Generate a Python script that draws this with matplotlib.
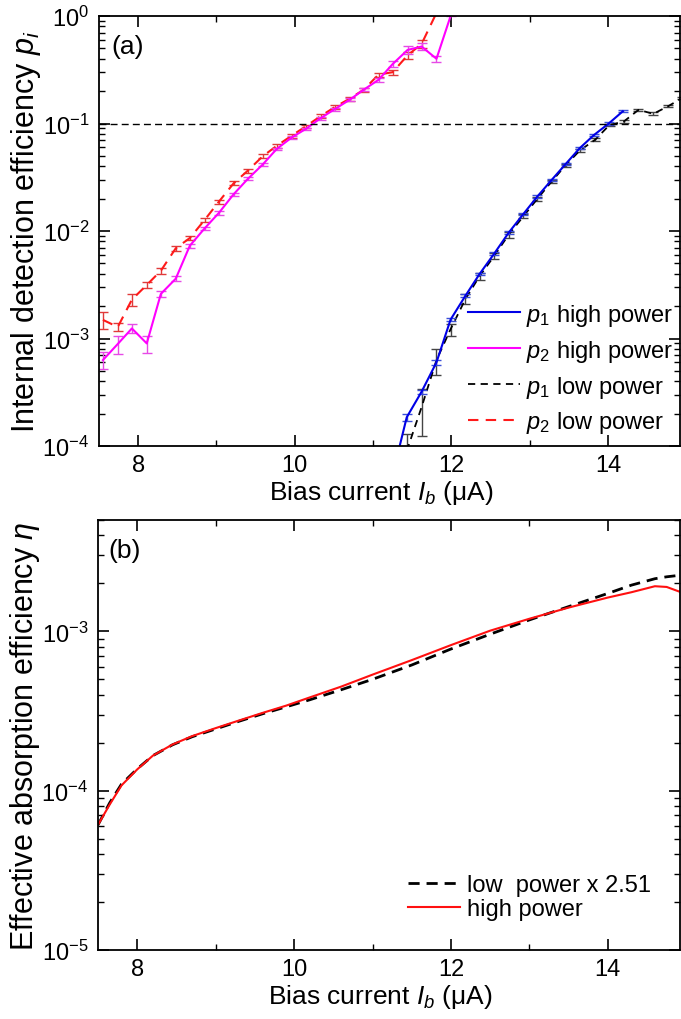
import matplotlib
matplotlib.use("Agg")
import matplotlib.pyplot as plt
from matplotlib.ticker import LogLocator, NullFormatter, MultipleLocator

plt.rcParams['font.family'] = ['Liberation Sans', 'DejaVu Sans']
plt.rcParams['mathtext.fontset'] = 'custom'
plt.rcParams['mathtext.rm'] = 'Liberation Sans'
plt.rcParams['mathtext.it'] = 'Liberation Sans:italic'
plt.rcParams['mathtext.default'] = 'regular'
plt.rcParams['axes.unicode_minus'] = False

# ---- panel (a): internal detection efficiency ----
x_p2_high = [7.55, 7.74, 7.92, 8.11, 8.29, 8.48, 8.66, 8.85, 9.03, 9.22, 9.40, 9.59, 9.77,
             9.96, 10.14, 10.33, 10.51, 10.70, 10.88, 11.07, 11.25, 11.44, 11.62, 11.81, 12.0]
p2_high = [6.3e-4, 8.9e-4, 1.24e-3, 9.0e-4, 2.6e-3, 3.6e-3, 7.3e-3, 1.06e-2, 1.47e-2, 2.2e-2,
           3.05e-2, 4.15e-2, 5.8e-2, 7.4e-2, 8.9e-2, 0.112, 0.136, 0.166, 0.206, 0.255,
           0.357, 0.483, 0.52, 0.40, 1.05]
p2_high_err = [1.15e-4, 1.7e-4, 1.2e-4, 1.6e-4, 1.5e-4, 2.0e-4, 3.0e-4, 4.0e-4, 5e-4, 7e-4,
               1.0e-3, 1.3e-3, 1.8e-3, 2.2e-3, 2.6e-3, 3.3e-3, 4.0e-3, 5.0e-3, 7e-3, 1.0e-2,
               2.5e-2, 4.0e-2, 3.5e-2, 2.5e-2, 0.05]

x_p2_low = [7.55, 7.74, 7.92, 8.11, 8.29, 8.48, 8.66, 8.85, 9.03, 9.22, 9.40, 9.59, 9.77,
            9.96, 10.14, 10.33, 10.51, 10.70, 10.88, 11.07, 11.25, 11.44, 11.62, 11.81]
p2_low = [1.49e-3, 1.28e-3, 2.3e-3, 3.15e-3, 4.27e-3, 6.9e-3, 8.6e-3, 1.27e-2, 1.87e-2,
          2.78e-2, 3.64e-2, 4.95e-2, 6.2e-2, 7.7e-2, 9.4e-2, 0.117, 0.142, 0.17, 0.206,
          0.285, 0.30, 0.43, 0.55, 1.07]
p2_low_err = [2.6e-4, 1.1e-4, 3e-4, 2.2e-4, 2.5e-4, 4e-4, 4e-4, 6e-4, 8e-4, 1.2e-3, 1.5e-3,
              2e-3, 2.5e-3, 3e-3, 3.5e-3, 4.5e-3, 5.5e-3, 7e-3, 8e-3, 1.2e-2, 1.5e-2,
              3e-2, 5e-2, 0.05]

x_p1_high = [11.25, 11.43, 11.62, 11.81, 11.99, 12.18, 12.36, 12.55, 12.73, 12.92, 13.10,
             13.28, 13.46, 13.64, 13.82, 14.01, 14.19]
p1_high = [5.4e-5, 1.85e-4, 3.2e-4, 6.0e-4, 1.5e-3, 2.5e-3, 3.98e-3, 6.2e-3, 9.6e-3,
           1.44e-2, 2.1e-2, 2.98e-2, 4.2e-2, 5.9e-2, 7.8e-2, 0.1, 0.13]
p1_high_err = [3e-6, 1.5e-5, 1.5e-5, 3e-5, 5e-5, 8e-5, 1.2e-4, 2e-4, 3e-4, 4e-4, 6e-4,
               8e-4, 1.1e-3, 1.5e-3, 2e-3, 2.5e-3, 3e-3]

x_p1_low = [11.43, 11.62, 11.81, 11.99, 12.18, 12.36, 12.55, 12.73, 12.92, 13.10, 13.28,
            13.46, 13.64, 13.84, 14.02, 14.20, 14.39, 14.58, 14.77, 14.95]
p1_low = [9e-5, 2.3e-4, 6.3e-4, 1.22e-3, 2.33e-3, 3.8e-3, 5.9e-3, 9.2e-3, 1.37e-2, 2.0e-2,
          2.88e-2, 4.1e-2, 5.6e-2, 7.1e-2, 9.7e-2, 0.104, 0.134, 0.123, 0.145, 0.173]
p1_low_err = [4e-5, 1.06e-4, 1.77e-4, 1.55e-4, 2.5e-4, 3e-4, 4e-4, 5e-4, 6e-4, 8e-4,
              1.0e-3, 1.3e-3, 1.6e-3, 2e-3, 2.5e-3, 3e-3, 3e-3, 4e-3, 4e-3, 5e-3]

threshold = 0.1

# ---- panel (b): effective absorption efficiency ----
x_eta = [7.5, 7.65, 7.8, 8.0, 8.2, 8.45, 8.7, 9.0, 9.3, 9.6, 9.9, 10.2, 10.6, 11.0, 11.5,
         12.0, 12.5, 13.0, 13.5, 14.0, 14.3, 14.6, 14.75, 14.92]
eta_high = [6.1e-5, 8.2e-5, 1.08e-4, 1.36e-4, 1.66e-4, 1.95e-4, 2.2e-4, 2.47e-4, 2.76e-4,
            3.08e-4, 3.42e-4, 3.85e-4, 4.5e-4, 5.35e-4, 6.6e-4, 8.2e-4, 1.01e-3, 1.2e-3,
            1.41e-3, 1.63e-3, 1.76e-3, 1.92e-3, 1.90e-3, 1.77e-3]
eta_low_scaled = [6.1e-5, 8.4e-5, 1.1e-4, 1.37e-4, 1.66e-4, 1.94e-4, 2.18e-4, 2.44e-4,
                  2.73e-4, 3.04e-4, 3.36e-4, 3.72e-4, 4.3e-4, 5.0e-4, 6.15e-4, 7.75e-4,
                  9.6e-4, 1.18e-3, 1.43e-3, 1.73e-3, 1.95e-3, 2.14e-3, 2.2e-3, 2.25e-3]

TICK = 17
LAB_X = 19
LAB_Y = 22
LEG = 17

fig = plt.figure(figsize=(6.81, 10.2), dpi=100)
ax1 = fig.add_axes([99 / 681, 1 - 447 / 1020, 581 / 681, 430 / 1020])
ax2 = fig.add_axes([98 / 681, 1 - 951 / 1020, 582 / 681, 430 / 1020])

# p2 low (red dashed)
ax1.errorbar(x_p2_low, p2_low, yerr=p2_low_err, fmt='none', ecolor='#e03a3a',
             elinewidth=1, capsize=3.5, capthick=1)
ax1.plot(x_p2_low, p2_low, color='#ff1a1a', ls=(0, (5, 3.5)), lw=1.5,
         label=r'$\mathit{p_2}$ low power')
# p2 high (magenta)
ax1.errorbar(x_p2_high, p2_high, yerr=p2_high_err, fmt='none', ecolor='#e64ae6',
             elinewidth=1, capsize=3.5, capthick=1)
ax1.plot(x_p2_high, p2_high, color='#ff00ff', lw=1.5, label=r'$\mathit{p_2}$ high power')
# p1 low (black dashed)
ax1.errorbar(x_p1_low, p1_low, yerr=p1_low_err, fmt='none', ecolor='#444444',
             elinewidth=1, capsize=3.5, capthick=1)
ax1.plot(x_p1_low, p1_low, color='black', ls=(0, (4, 3)), lw=1.3,
         label=r'$\mathit{p_1}$ low power')
# p1 high (blue)
ax1.errorbar(x_p1_high, p1_high, yerr=p1_high_err, fmt='none', ecolor='#3b4fd8',
             elinewidth=1, capsize=3.5, capthick=1)
ax1.plot(x_p1_high, p1_high, color='#0000e6', lw=1.5, label=r'$\mathit{p_1}$ high power')

ax1.axhline(threshold, color='black', ls=(0, (5, 3)), lw=1)

ax1.set_yscale('log')
ax1.set_ylim(1e-4, 1)
ax1.set_ylabel(r'Internal detection efficiency $\mathit{p_i}$', fontsize=LAB_Y)

handles, labels = ax1.get_legend_handles_labels()
order = [3, 1, 2, 0]
ax1.legend([handles[i] for i in order], [labels[i] for i in order],
           loc='center left', bbox_to_anchor=(0.635, 0.18), frameon=False,
           fontsize=LEG, handlelength=2.2, handletextpad=0.25, labelspacing=0.42,
           borderpad=0, borderaxespad=0)
ax1.text(0.022, 0.93, '(a)', transform=ax1.transAxes, fontsize=19, va='center', ha='left')

# panel (b)
ax2.plot(x_eta, eta_low_scaled, color='black', ls=(0, (4, 2.5)), lw=2,
         label='low  power x 2.51')
ax2.plot(x_eta, eta_high, color='#ff1010', lw=1.5, label='high power')
ax2.set_yscale('log')
ax2.set_ylim(1e-5, 5e-3)
ax2.set_ylabel(r'Effective absorption efficiency $\mathit{\eta}$', fontsize=LAB_Y)
ax2.legend(loc='center left', bbox_to_anchor=(0.533, 0.123), frameon=False,
           fontsize=LEG, handlelength=2.2, handletextpad=0.3, labelspacing=0.1,
           borderpad=0, borderaxespad=0)
ax2.text(0.018, 0.93, '(b)', transform=ax2.transAxes, fontsize=19, va='center', ha='left')

for ax in (ax1, ax2):
    ax.set_xlim(7.5, 14.92)
    ax.xaxis.set_major_locator(MultipleLocator(2))
    ax.xaxis.set_minor_locator(MultipleLocator(1))
    ax.yaxis.set_major_locator(LogLocator(base=10, numticks=10))
    ax.yaxis.set_minor_locator(LogLocator(base=10, subs=range(2, 10), numticks=10))
    ax.yaxis.set_minor_formatter(NullFormatter())
    ax.tick_params(which='both', direction='in', top=True, right=True, labelsize=TICK)
    ax.tick_params(which='major', length=8, width=1.2)
    ax.tick_params(which='minor', length=4, width=1)
    ax.tick_params(axis='y', which='major', pad=7)
    ax.tick_params(axis='x', which='major', pad=6)
    ax.set_xlabel(r'Bias current $\mathit{I_b}$ (μA)', fontsize=LAB_X, labelpad=1)
    ax.xaxis.set_label_coords(0.485, -0.075)
    for s in ax.spines.values():
        s.set_linewidth(1.3)

ax1.yaxis.set_label_coords(-0.097, 0.5)
ax2.yaxis.set_label_coords(-0.097, 0.5)

fig.savefig('out.png', dpi=100)
